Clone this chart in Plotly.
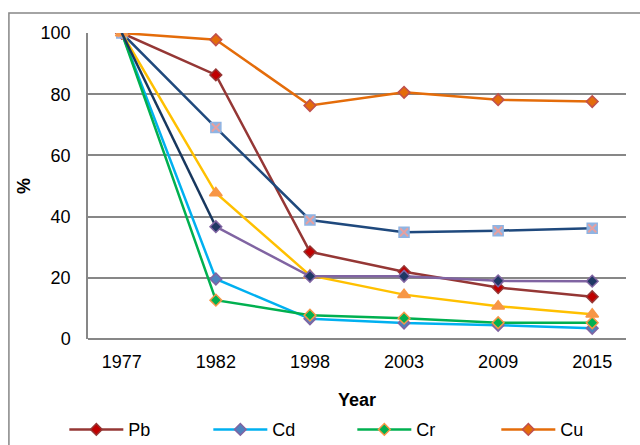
import plotly.graph_objects as go

years = ["1977", "1982", "1998", "2003", "2009", "2015"]
pb = [100, 86.3, 28.5, 22.0, 16.8, 13.8]
cd = [100, 19.6, 6.6, 5.2, 4.5, 3.5]
cr = [100, 12.7, 7.8, 6.8, 5.3, 5.3]
cu = [100, 97.8, 76.3, 80.6, 78.2, 77.6]
zn = [100, 69.1, 38.9, 34.9, 35.4, 36.2]
ni = [100, 47.7, 20.8, 14.5, 10.7, 8.1]
hg = [100, 36.7, 20.5, 20.5, 19.0, 18.9]

FONT = "Liberation Sans, Arial, sans-serif"
FS = 18
fig = go.Figure()

def add(name, x, y, lc, fill, edge, symbol="diamond", size=9, legend=True):
    fig.add_trace(go.Scatter(
        x=x, y=y, name=name, mode="lines+markers",
        line=dict(color=lc, width=2.5),
        marker=dict(symbol=symbol, size=size, color=fill, line=dict(color=edge, width=1.5)),
        showlegend=legend))

add("Pb", years, pb, "#953735", "#C00000", "#953735")
add("Cd", years, cd, "#00B0F0", "#4F81BD", "#8064A2")
add("Cr", years, cr, "#00B050", "#00B050", "#F79646")
add("Cu", years, cu, "#E46C0A", "#E46C0A", "#C0504D")
# further series whose legend entries lie below the visible area
add("Zn", years, zn, "#1F497D", "#8EB4E3", "#8EB4E3", symbol="square", size=10, legend=False)
fig.add_trace(go.Scatter(x=years, y=zn, mode="markers", showlegend=False, hoverinfo="skip",
                         marker=dict(symbol="x-thin", size=8, line=dict(color="#E6A0A0", width=2))))
add("Ni", years, ni, "#FFC000", "#F79646", "#F79646", symbol="triangle-up", size=11, legend=False)
fig.add_trace(go.Scatter(x=years[:2], y=hg[:2], mode="lines", showlegend=False, hoverinfo="skip",
                         line=dict(color="#17375E", width=2.5)))
add("Hg", years[1:], hg[1:], "#8064A2", "#1F3864", "#8064A2", legend=False)

# chart border
fig.add_shape(type="rect", xref="paper", yref="paper", x0=-0.147, x1=1.2, y0=-0.5, y1=1.065,
              line=dict(color="#868686", width=1.5), layer="below")

fig.update_layout(
    width=640, height=445,
    margin=dict(l=88, r=14, t=33, b=106, autoexpand=False),
    paper_bgcolor="white", plot_bgcolor="white",
    font=dict(family=FONT, size=FS, color="black"),
    showlegend=True,
    legend=dict(orientation="h", x=-0.044, xanchor="left", y=-0.236, yanchor="top",
                entrywidth=75, entrywidthmode="pixels", itemwidth=54,
                font=dict(size=FS), tracegroupgap=0),
)
fig.update_xaxes(type="category", showgrid=False, zeroline=False,
                 showline=False, ticks="", ticklabelstandoff=10,
                 title=dict(text="<b>Year</b>", font=dict(size=FS), standoff=22))
fig.update_yaxes(range=[0, 100], tickvals=[0, 20, 40, 60, 80, 100],
                 showgrid=True, gridcolor="#878787", gridwidth=1.5,
                 showline=True, linecolor="#878787", linewidth=1.5,
                 zeroline=True, zerolinecolor="#878787", zerolinewidth=1.5,
                 ticks="", ticklabelstandoff=12,
                 title=dict(text="<b>%</b>", font=dict(size=FS), standoff=5))

fig.write_html("out.html", config={"displayModeBar": False},
               post_script="document.body.style.margin='0';document.body.style.overflow='hidden';")
